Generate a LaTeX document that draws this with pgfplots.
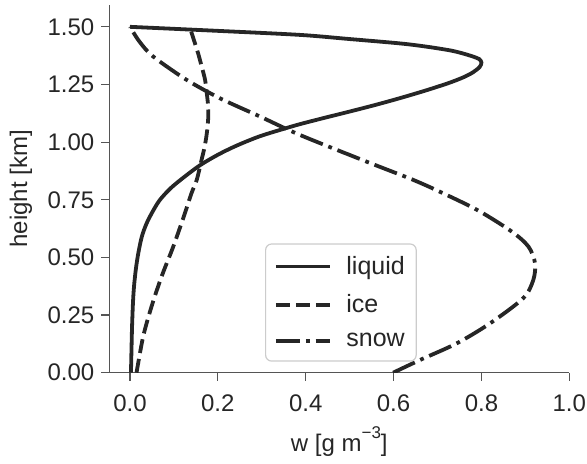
\documentclass[border=0pt]{standalone}
\usepackage{pgfplots}
\pgfplotsset{compat=1.18}
\usepackage{fontspec}
\setmainfont{Liberation Sans}
\definecolor{ink}{RGB}{38,38,38}
\definecolor{spine}{RGB}{85,85,85}
\definecolor{legframe}{RGB}{204,204,204}

\pgfplotstableread{
x y
0.0023 0
0.0035 0.1
0.0048 0.2
0.0068 0.30
0.0092 0.373
0.0135 0.45
0.019 0.518
0.027 0.59
0.038 0.648
0.052 0.70
0.068 0.749
0.092 0.799
0.121 0.845
0.159 0.899
0.200 0.945
0.243 0.985
0.295 1.025
0.349 1.057
0.387 1.078
0.440 1.104
0.501 1.133
0.560 1.162
0.615 1.191
0.675 1.225
0.728 1.258
0.760 1.282
0.781 1.303
0.796 1.326
0.800 1.345
0.795 1.360
0.781 1.371
0.755 1.386
0.728 1.398
0.675 1.414
0.615 1.428
0.500 1.447
0.387 1.465
0.200 1.4825
0.000 1.500
}\liquid

\pgfplotstableread{
x y
0.015 0
0.030 0.156
0.049 0.286
0.072 0.417
0.0986 0.547
0.125 0.691
0.140 0.778
0.152 0.836
0.163 0.923
0.170 0.980
0.175 1.039
0.178 1.100
0.178 1.154
0.175 1.210
0.171 1.270
0.163 1.330
0.155 1.386
0.146 1.440
0.136 1.500
}\ice

\pgfplotstableread{
x y
0.599 0
0.660 0.055
0.744 0.1275
0.8195 0.214
0.895 0.323
0.918 0.402
0.922 0.475
0.907 0.547
0.869 0.612
0.793 0.703
0.713 0.778
0.645 0.836
0.539 0.915
0.387 1.031
0.296 1.111
0.205 1.190
0.129 1.270
0.053 1.371
0.022 1.435
0.000 1.500
}\snow

\begin{document}
\begin{tikzpicture}
\begin{axis}[
  scale only axis, width=230pt, height=184pt,
  xmin=-0.047, xmax=1.0, ymin=0, ymax=1.596,
  axis lines=left,
  axis line style={-, draw=spine, line width=0.6pt},
  tick align=outside, major tick length=4pt,
  tick style={draw=spine, line width=0.6pt},
  xtick={0,0.2,0.4,0.6,0.8,1.0},
  ytick={0,0.25,0.5,0.75,1.0,1.25,1.5},
  /pgf/number format/assume math mode=true,
  xticklabel style={yshift=-3.5pt, /pgf/number format/.cd, fixed, fixed zerofill, precision=1},
  yticklabel style={/pgf/number format/.cd, fixed, fixed zerofill, precision=2},
  tick label style={font=\fontsize{12}{14}\selectfont, text=ink},
  label style={font=\fontsize{12}{14}\selectfont, text=ink},
  xlabel={w [g m\raisebox{6.5pt}{\fontsize{8.5}{10}\selectfont −3}]},
  ylabel={height [km]},
  xlabel style={at={(axis description cs:0.5,-0.2152)}, anchor=base},
  ylabel style={at={(axis description cs:-0.1922,0.5)}, anchor=center},
  legend cell align=left,
  legend image code/.code={\draw[#1] (0pt,0pt) -- (27pt,0pt);},
  legend style={at={(axis description cs:0.3385,0.0299)}, anchor=south west,
    draw=legframe, line width=0.6pt, rounded corners=3pt, fill=white,
    font=\fontsize{12.5}{15}\selectfont, text=ink,
    inner xsep=4.2pt, inner ysep=4pt, row sep=4.6pt,
    nodes={inner xsep=1.5pt},
    /tikz/every odd column/.append style={column sep=5.8pt}},
]
\addplot[ink, line width=1.9pt, smooth] table {\liquid};
\addlegendentry{liquid}
\addplot[ink, line width=1.9pt, smooth, dash pattern=on 7pt off 3pt] table {\ice};
\addlegendentry{ice}
\addplot[ink, line width=1.9pt, smooth, dash pattern=on 12pt off 3pt on 1.9pt off 3pt] table {\snow};
\addlegendentry{snow}
\end{axis}
\pgfresetboundingbox
\path[use as bounding box] ([shift={(-54.65pt,-45.65pt)}]current axis.south west) rectangle ([shift={(8.85pt,2.35pt)}]current axis.north east);
\end{tikzpicture}
\end{document}
